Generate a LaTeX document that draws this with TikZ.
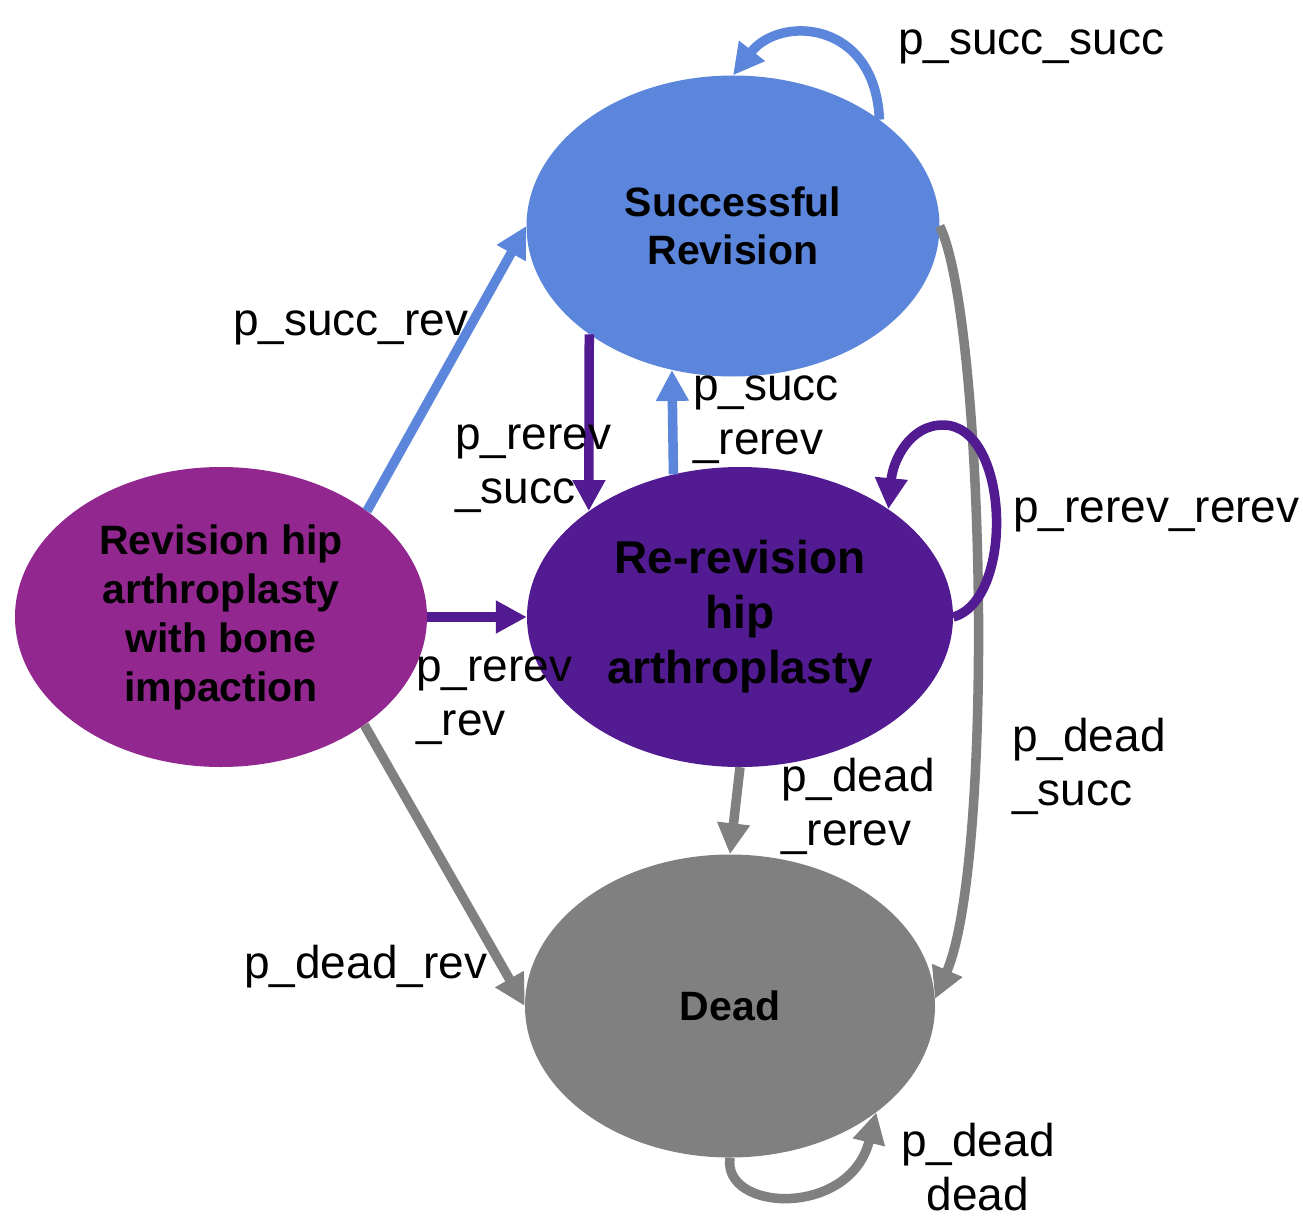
\documentclass[tikz,border=0pt]{standalone}
\usepackage{fontspec}
\setmainfont{Liberation Sans}
\usetikzlibrary{arrows.meta,shapes.geometric}
\definecolor{cblue}{HTML}{5B86DB}
\definecolor{cpurple}{HTML}{521B92}
\definecolor{cmag}{HTML}{92278F}
\definecolor{cgray}{HTML}{808080}
\begin{document}
\begin{tikzpicture}[x=1pt,y=-1pt,
 state/.style={ellipse, inner sep=0pt, align=center, text=black},
 lbl/.style={inner sep=0pt, align=left, font=\fontsize{46}{54}\selectfont},
 lblc/.style={inner sep=0pt, align=center, font=\fontsize{46}{54}\selectfont},
 conn/.style={line width=9.5pt, -{Triangle[length=31pt,width=31pt]}},
]
\useasboundingbox[fill=white] (0,0) rectangle (1303,1220);
\node[state, fill=cblue, minimum width=413pt, minimum height=301pt, font=\bfseries\fontsize{41}{48}\selectfont] (succ) at (733,226) {Successful\\Revision};
\node[state, fill=cpurple, minimum width=426pt, minimum height=300pt, font=\bfseries\fontsize{46}{55}\selectfont] (rerev) at (740,617) {Re-revision\\hip\\arthroplasty};
\node[state, fill=cmag, minimum width=412pt, minimum height=300pt, font=\bfseries\fontsize{41}{49}\selectfont] (rev) at (221,617) {Revision hip\\arthroplasty\\with bone\\impaction};
\node[state, fill=cgray, minimum width=410pt, minimum height=303pt, font=\bfseries\fontsize{41}{48}\selectfont] (dead) at (730,1006) {Dead};

\draw[conn, cblue] (rev.36) -- (succ.180);
\draw[conn, cpurple] (rev.0) -- (rerev.180);
\draw[conn, cgray] (rev.-37) -- (dead.180);
\draw[conn, cpurple] (succ.-143) -- (rerev.145);
\draw[conn, cblue] (rerev.115) -- (succ.-113);
\draw[conn, cgray] (rerev.-90) -- (dead.90);
\draw[conn, cgray] (succ.0) .. controls (985,320) and (995,860) .. (dead.2);
\draw[conn, cblue] (succ.36) .. controls (875,20) and (780,15) .. (succ.90);
\draw[conn, cpurple] (rerev.0) .. controls (1015,600) and (1010,425) .. (943,425) .. controls (910,425) and (893,460) .. (rerev.36);
\draw[conn, cgray] (dead.-90) .. controls (722,1212) and (850,1218) .. (dead.-36);

\node[lbl, anchor=base west] (lss) at (898,55) {p\_succ\_succ};
\node[lbl, anchor=base west] (lsr) at (233,335) {p\_succ\_rev};
\node[lbl, anchor=base west] (lrr) at (1013,522) {p\_rerev\_rerev};
\node[lbl, anchor=base west] (ldr) at (244,978) {p\_dead\_rev};
\node[lbl, anchor=base west] (lrs) at (455,503) {p\_rerev\\\_succ};
\node[lbl, anchor=base west] (lsrr) at (693,454) {p\_succ\\\_rerev};
\node[lbl, anchor=base west] (lrv) at (416,735) {p\_rerev\\\_rev};
\node[lbl, anchor=base west] (ldrr) at (781,845) {p\_dead\\\_rerev};
\node[lbl, anchor=base west] (lds) at (1012,805) {p\_dead\\\_succ};
\node[lblc, anchor=base] (ldd) at (978,1210) {p\_dead\\dead};
\end{tikzpicture}
\end{document}
